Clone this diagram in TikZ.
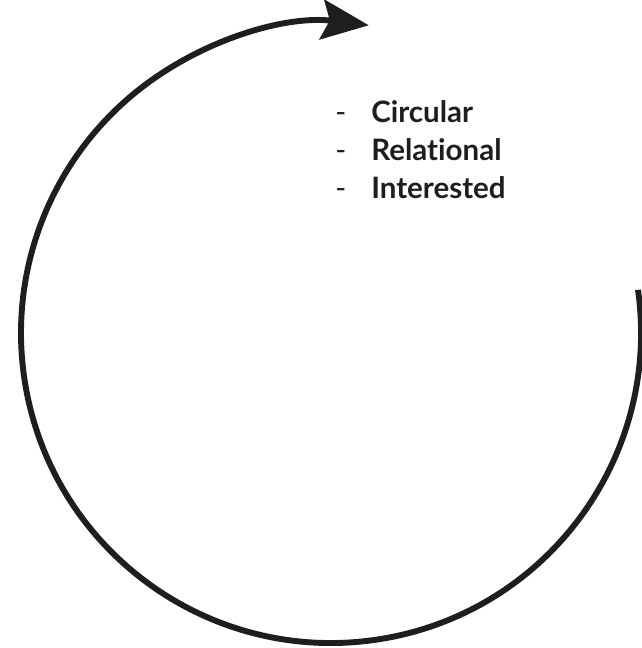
\documentclass[tikz,border=0pt]{standalone}
\usepackage{fontspec}
\setmainfont{Lato}[Ligatures=NoCommon]
\usepackage{tikz}
\usetikzlibrary{arrows.meta, positioning, calc}
\usepackage{xcolor}
\definecolor{ink}{RGB}{30,30,30}

\begin{document}
\begin{tikzpicture}[x=0.025cm, y=0.025cm,
    item/.style={anchor=base west, inner sep=0pt, font=\fontsize{21}{25}\selectfont\bfseries, ink},
    bullet/.style={anchor=base west, inner sep=0pt, font=\fontsize{21}{25}\selectfont, ink}]
  \useasboundingbox (0,0) rectangle (641,648);
  % Cycle arc
  \coordinate (c) at (331,315);
  \draw[ink, line width=4.2pt, -{Stealth[length=1.18cm, width=1cm, inset=0.2cm]}]
    ($(c)+(8:310)$) arc[start angle=8, end angle=-277, radius=310];
  % Keywords
  \foreach \txt [count=\i] in {Circular, Relational, Interested} {
    \node[bullet] (d\i) at (335, 648-123-38*\i+38) {-};
    \node[item] (k\i) at (371, 648-123-38*\i+38) {\txt};
  }
\end{tikzpicture}
\end{document}
